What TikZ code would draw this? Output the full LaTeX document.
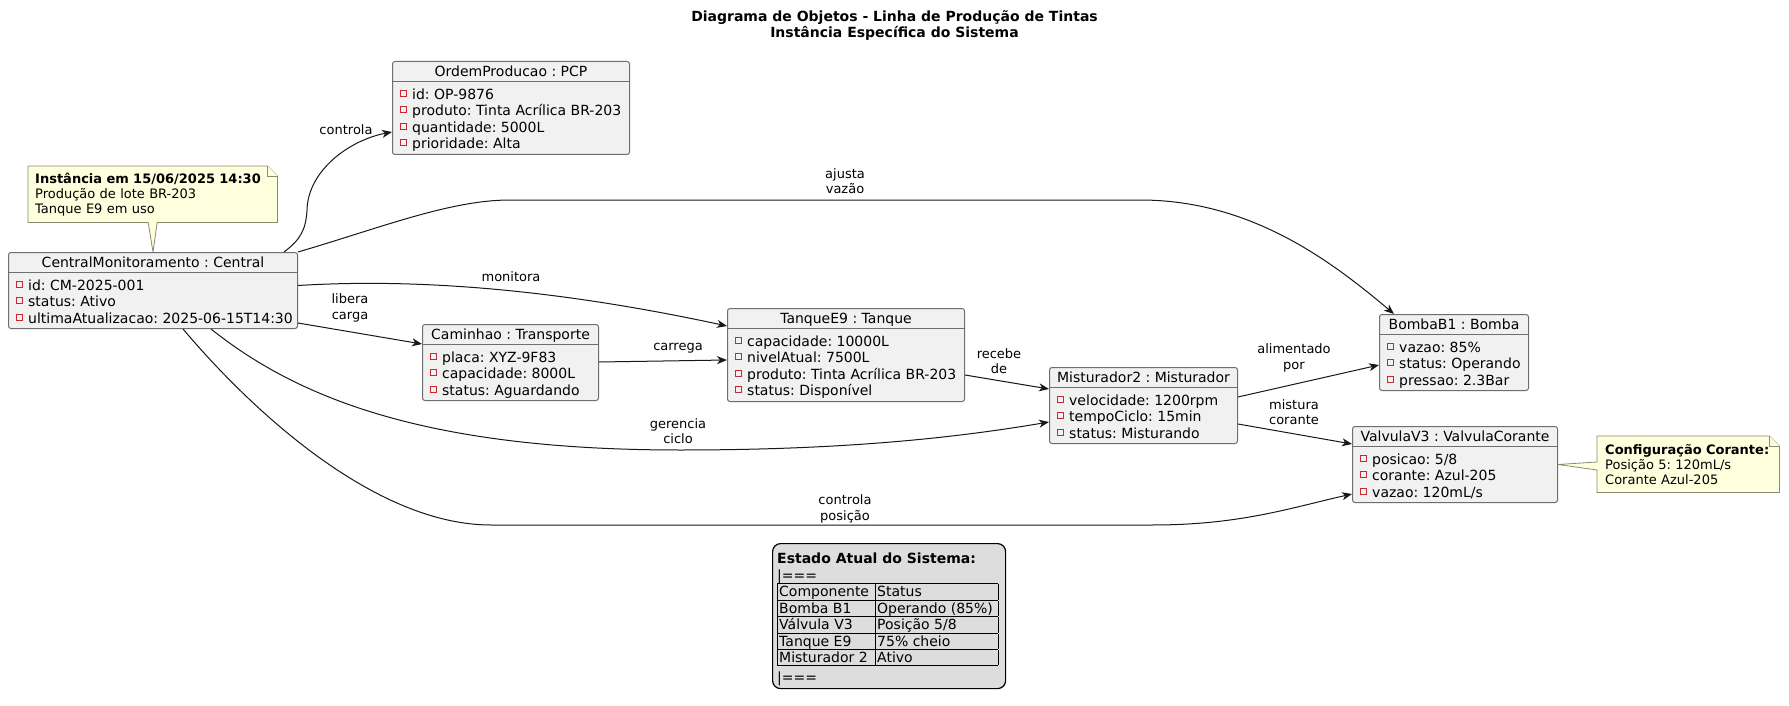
\documentclass[tikz,border=0pt]{standalone}
\usepackage{fontspec}
\setmainfont{DejaVu Sans}
\usetikzlibrary{arrows.meta,backgrounds}
\definecolor{objfill}{HTML}{F1F1F1}
\definecolor{objline}{HTML}{6E6E6E}
\definecolor{edgecol}{HTML}{181818}
\definecolor{privred}{HTML}{C82930}
\definecolor{notefill}{HTML}{FEFFDD}
\definecolor{noteline}{HTML}{8A8A70}
\definecolor{legfill}{HTML}{DDDDDD}
\frenchspacing

\begin{document}
\begin{tikzpicture}[x=1pt,y=-1pt,
obj/.style={%
draw=objline,
fill=objfill,
line width=1pt,
rounded corners=2.5pt,
anchor=north west,
inner sep=0pt,
minimum height=76pt
},
objhead/.style={%
anchor=base,
inner sep=0pt,
font=\fontsize{14}{16}\selectfont
},
attr/.style={%
anchor=base west,
inner sep=0pt,
font=\fontsize{14}{16}\selectfont
},
privmark/.style={%
draw=privred,
line width=0.9pt,
minimum size=6pt,
inner sep=0pt
},
sepline/.style={draw=objline,line width=1pt},
rel/.style={%
draw=edgecol,
line width=1pt,
-{Stealth[length=10pt,width=8pt,inset=3pt]}
},
rellabel/.style={%
align=center,
inner sep=0pt,
font=\fontsize{13}{15.5}\selectfont
},
notetext/.style={%
anchor=north west,
align=left,
inner xsep=7pt,
inner ysep=0pt,
minimum height=56pt,
font=\fontsize{13}{15}\selectfont
},
notebox/.style={draw=noteline,fill=notefill,line width=0.8pt},
]
\begin{scope}[on background layer]
\fill[white] (0,0) rectangle (1789,706);
\end{scope}

%% Title
\node[align=center,inner sep=0pt,font=\bfseries\fontsize{14}{16}\selectfont] (title) at (894.5,26)
{Diagrama de Objetos - Linha de Produção de Tintas\\Instância Específica do Sistema};

%% Objects
\node[obj,minimum width=237pt,minimum height=93pt] (ordem) at (392,61) {};
\node[objhead] (ordem-head) at ([yshift=-15.5pt]ordem.north) {OrdemProducao : PCP};
\draw[sepline] ([yshift=-20.5pt]ordem.north west) -- ([yshift=-20.5pt]ordem.north east);
\foreach \a [count=\i] in {id: OP-9876, produto: Tinta Acrílica BR-203, quantidade: 5000L, prioridade: Alta}{%
\node[privmark] (ordem-m\i) at ([xshift=11pt,yshift=-32.5pt-16.4pt*(\i-1)]ordem.north west) {};
\node[attr] (ordem-a\i) at ([xshift=20pt,yshift=-38.5pt-16.4pt*(\i-1)]ordem.north west) {\a};
}

\node[obj,minimum width=289pt] (central) at (8,252) {};
\node[objhead] (central-head) at ([yshift=-15.5pt]central.north) {CentralMonitoramento : Central};
\draw[sepline] ([yshift=-20.5pt]central.north west) -- ([yshift=-20.5pt]central.north east);
\foreach \a [count=\i] in {id: CM-2025-001, status: Ativo, ultimaAtualizacao: 2025-06-15T14:30}{%
\node[privmark] (central-m\i) at ([xshift=11pt,yshift=-32.5pt-16.4pt*(\i-1)]central.north west) {};
\node[attr] (central-a\i) at ([xshift=20pt,yshift=-38.5pt-16.4pt*(\i-1)]central.north west) {\a};
}

\node[obj,minimum width=176pt] (caminhao) at (422,324) {};
\node[objhead] (caminhao-head) at ([yshift=-15.5pt]caminhao.north) {Caminhao : Transporte};
\draw[sepline] ([yshift=-20.5pt]caminhao.north west) -- ([yshift=-20.5pt]caminhao.north east);
\foreach \a [count=\i] in {placa: XYZ-9F83, capacidade: 8000L, status: Aguardando}{%
\node[privmark] (caminhao-m\i) at ([xshift=11pt,yshift=-32.5pt-16.4pt*(\i-1)]caminhao.north west) {};
\node[attr] (caminhao-a\i) at ([xshift=20pt,yshift=-38.5pt-16.4pt*(\i-1)]caminhao.north west) {\a};
}

\node[obj,minimum width=237pt,minimum height=93pt] (tanque) at (727,308) {};
\node[objhead] (tanque-head) at ([yshift=-15.5pt]tanque.north) {TanqueE9 : Tanque};
\draw[sepline] ([yshift=-20.5pt]tanque.north west) -- ([yshift=-20.5pt]tanque.north east);
\foreach \a [count=\i] in {capacidade: 10000L, nivelAtual: 7500L, produto: Tinta Acrílica BR-203, status: Disponível}{%
\node[privmark] (tanque-m\i) at ([xshift=11pt,yshift=-32.5pt-16.4pt*(\i-1)]tanque.north west) {};
\node[attr] (tanque-a\i) at ([xshift=20pt,yshift=-38.5pt-16.4pt*(\i-1)]tanque.north west) {\a};
}

\node[obj,minimum width=188pt] (misturador) at (1049,367) {};
\node[objhead] (misturador-head) at ([yshift=-15.5pt]misturador.north) {Misturador2 : Misturador};
\draw[sepline] ([yshift=-20.5pt]misturador.north west) -- ([yshift=-20.5pt]misturador.north east);
\foreach \a [count=\i] in {velocidade: 1200rpm, tempoCiclo: 15min, status: Misturando}{%
\node[privmark] (misturador-m\i) at ([xshift=11pt,yshift=-32.5pt-16.4pt*(\i-1)]misturador.north west) {};
\node[attr] (misturador-a\i) at ([xshift=20pt,yshift=-38.5pt-16.4pt*(\i-1)]misturador.north west) {\a};
}

\node[obj,minimum width=149pt] (bomba) at (1379,314) {};
\node[objhead] (bomba-head) at ([yshift=-15.5pt]bomba.north) {BombaB1 : Bomba};
\draw[sepline] ([yshift=-20.5pt]bomba.north west) -- ([yshift=-20.5pt]bomba.north east);
\foreach \a [count=\i] in {vazao: 85\%, status: Operando, pressao: 2.3Bar}{%
\node[privmark] (bomba-m\i) at ([xshift=11pt,yshift=-32.5pt-16.4pt*(\i-1)]bomba.north west) {};
\node[attr] (bomba-a\i) at ([xshift=20pt,yshift=-38.5pt-16.4pt*(\i-1)]bomba.north west) {\a};
}

\node[obj,minimum width=205pt] (valvula) at (1352,426) {};
\node[objhead] (valvula-head) at ([yshift=-15.5pt]valvula.north) {ValvulaV3 : ValvulaCorante};
\draw[sepline] ([yshift=-20.5pt]valvula.north west) -- ([yshift=-20.5pt]valvula.north east);
\foreach \a [count=\i] in {posicao: 5/8, corante: Azul-205, vazao: 120mL/s}{%
\node[privmark] (valvula-m\i) at ([xshift=11pt,yshift=-32.5pt-16.4pt*(\i-1)]valvula.north west) {};
\node[attr] (valvula-a\i) at ([xshift=20pt,yshift=-38.5pt-16.4pt*(\i-1)]valvula.north west) {\a};
}

%% Notes
\node[notetext,text width=235pt] (note-inst) at (28,166)
{\textbf{Instância em 15/06/2025 14:30}\\Produção de lote BR-203\\Tanque E9 em uso};
\node[notetext,text width=166pt,inner xsep=8pt] (note-cor) at (1597,436)
{\textbf{Configuração Corante:}\\Posição 5: 120mL/s\\Corante Azul-205};
\begin{scope}[on background layer]
\draw[notebox] (note-inst.north west) -- ([xshift=-10pt]note-inst.north east)
  -- ([yshift=-10pt]note-inst.north east) -- (note-inst.south east)
  -- ([xshift=4.5pt]note-inst.south) -- (central.north)
  -- ([xshift=-4.5pt]note-inst.south) -- (note-inst.south west) -- cycle;
\draw[notebox] ([xshift=-10pt]note-inst.north east) |- ([yshift=-10pt]note-inst.north east);
\draw[notebox] (note-cor.north west) -- ([xshift=-10pt]note-cor.north east)
  -- ([yshift=-10pt]note-cor.north east) -- (note-cor.south east)
  -- (note-cor.south west) -- ([yshift=-34pt]note-cor.north west)
  -- (valvula.east) -- ([yshift=-26pt]note-cor.north west) -- cycle;
\draw[notebox] ([xshift=-10pt]note-cor.north east) |- ([yshift=-10pt]note-cor.north east);
\end{scope}

%% Links
\draw[rel] ([xshift=-14pt]central.north east) .. controls (300,240) and (306,230) .. (307,210)
  .. controls (308,170) and (350,140) .. ([yshift=23pt]ordem.south west);
\node[rellabel] (lbl-controla) at (346,130) {controla};

\draw[rel] (central.north east) .. controls (380,228) and (450,200) .. (510,200) -- (1140,200)
  .. controls (1250,200) and (1330,260) .. ([xshift=15pt]bomba.north west);
\node[rellabel] (lbl-ajusta) at (845,181) {ajusta\\vazão};

\draw[rel] ([yshift=5pt]central.east) .. controls (420,278) and (560,290) .. ([yshift=-18pt]tanque.north west);
\node[rellabel] (lbl-monitora) at (511,277) {monitora};

\draw[rel] ([yshift=6pt]central.south east) -- ([yshift=-20pt]caminhao.north west);
\node[rellabel] (lbl-libera) at (350,308) {libera\\carga};

\draw[rel] ([yshift=-38pt]caminhao.north east) -- ([yshift=-52pt]tanque.north west);
\node[rellabel] (lbl-carrega) at (678,348) {carrega};

\draw[rel] ([yshift=-67pt]tanque.north east) -- ([yshift=-22pt]misturador.north west);
\node[rellabel] (lbl-recebe) at (999,361) {recebe\\de};

\draw[rel] ([xshift=203pt]central.south west) .. controls (300,400) and (430,450) .. (680,450)
  .. controls (850,450) and (960,437) .. ([yshift=-55pt]misturador.north west);
\node[rellabel] (lbl-gerencia) at (678,431) {gerencia\\ciclo};

\draw[rel] ([xshift=175pt]central.south west) .. controls (260,420) and (380,525) .. (491,525) -- (1152,525)
  .. controls (1240,525) and (1290,508) .. ([yshift=-68pt]valvula.north west);
\node[rellabel] (lbl-posicao) at (845,509) {controla\\posição};

\draw[rel] ([yshift=-30pt]misturador.north east) -- ([yshift=-51pt]bomba.north west);
\node[rellabel] (lbl-alimentado) at (1294,358) {alimentado\\por};

\draw[rel] ([yshift=-57pt]misturador.north east) -- ([yshift=-18pt]valvula.north west);
\node[rellabel] (lbl-mistura) at (1294,412) {mistura\\corante};

%% Legend
\node[draw=black,fill=legfill,line width=1.2pt,rounded corners=8pt,anchor=north west,
  minimum width=233pt,minimum height=145pt,inner sep=0pt] (legend) at (772,543) {};
\node[attr,font=\bfseries\fontsize{14}{16}\selectfont] (leg-title) at ([xshift=5pt,yshift=-20pt]legend.north west) {Estado Atual do Sistema:};
\node[attr] (leg-open) at ([xshift=5pt,yshift=-37pt]legend.north west) {|===};
\node[anchor=north west,inner sep=0pt,font=\fontsize{14}{15}\selectfont] (leg-table) at ([xshift=5pt,yshift=-40pt]legend.north west)
{\setlength\arrayrulewidth{1pt}\setlength\tabcolsep{2pt}%
\setbox\strutbox=\hbox{\vrule height 12.6pt depth 2.4pt width 0pt}%
\begin{tabular}{|p{94pt}|p{119pt}|}\hline
Componente & Status\\\hline
Bomba B1 & Operando (85\%)\\\hline
Válvula V3 & Posição 5/8\\\hline
Tanque E9 & 75\% cheio\\\hline
Misturador 2 & Ativo\\\hline
\end{tabular}};
\node[attr] (leg-close) at ([xshift=5pt,yshift=-139pt]legend.north west) {|===};
\end{tikzpicture}
\end{document}
